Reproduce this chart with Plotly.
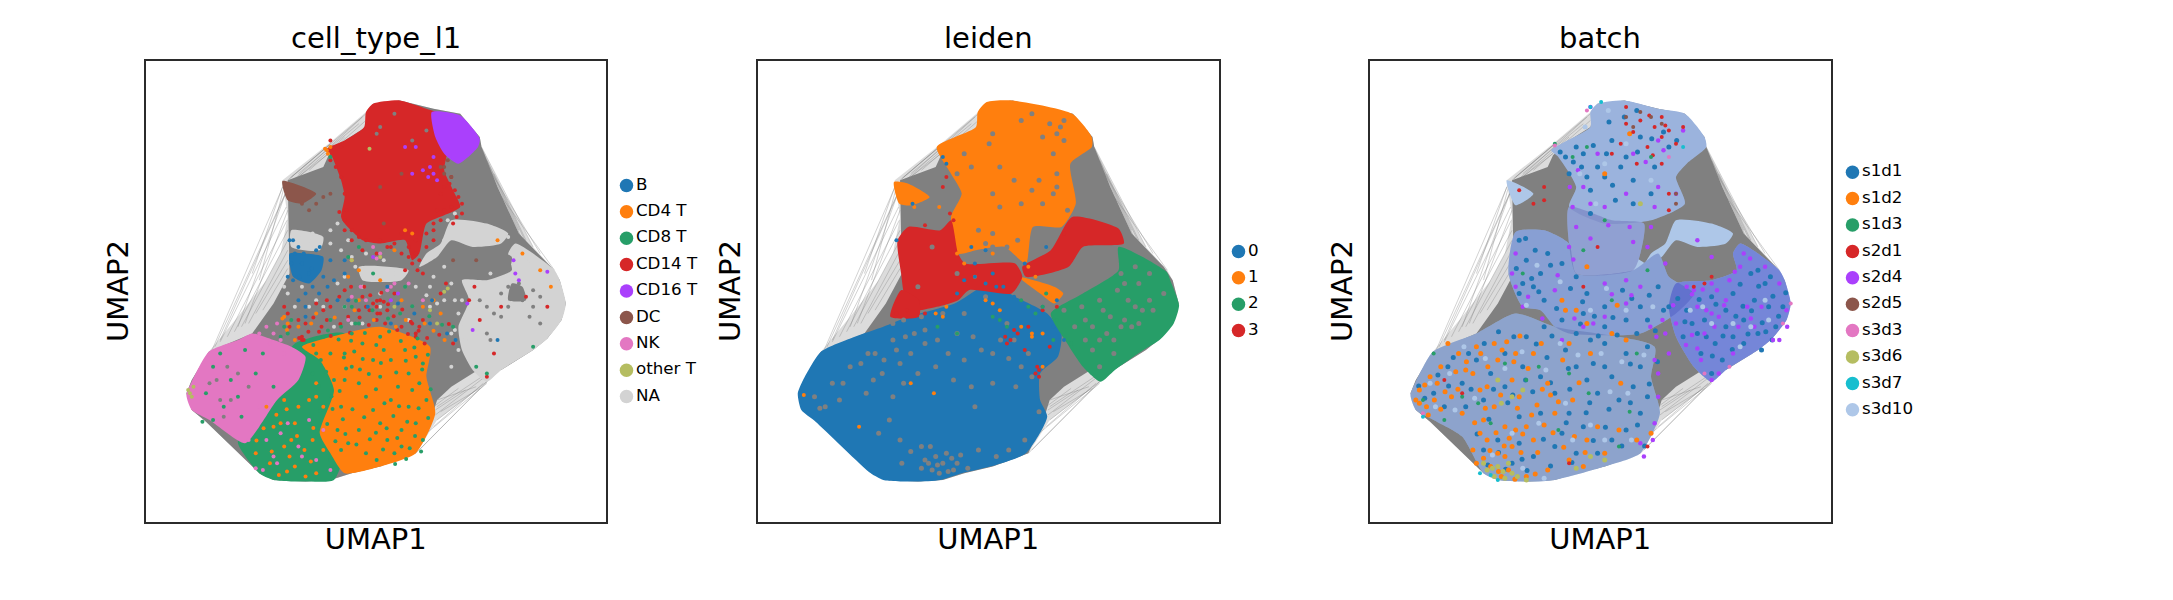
import plotly.graph_objects as go

# ---- embedding outline values (UMAP1, UMAP2 in arbitrary read units)
hull = [(155,440),(170,480),(218,565),(300,670),(380,780),(420,860),(440,970),(425,1080),(555,1190),(660,1285),(680,1310),(755,1320),(850,1295),(925,1280),(980,1210),(985,1180),(1060,1020),(1130,880),(1190,810),(1205,780),(1222,710),(1210,660),(1170,605),(1130,570),(1040,510),(1000,475),(960,440),(860,360),(800,260),(700,220),(620,200),(560,180),(490,175),(400,180),(360,200),(210,355),(170,390)]
core = [(155,440),(170,480),(218,565),(340,620),(400,710),(445,800),(440,1080),(540,1120),(555,1155),(600,1200),(660,1240),(680,1310),(755,1320),(850,1295),(925,1280),(980,1210),(985,1180),(1030,1060),(1090,920),(1180,820),(1205,780),(1222,710),(1210,660),(1170,605),(1130,570),(1040,510),(975,510),(900,460),(860,420),(845,370),(800,260),(700,220),(620,200),(560,180),(490,175),(400,180),(360,200),(210,355),(170,390)]
edges = [((430,1070),(225,565)),((433,1040),(235,580)),((436,1000),(250,595)),((438,960),(270,610)),((440,930),(290,625)),((440,900),(310,640)),((438,1050),(250,600)),((440,1060),(300,640)),((440,990),(320,650)),((440,870),(330,650)),((440,840),(350,680)),((440,815),(370,690)),((425,1060),(340,800)),((430,1060),(360,780)),
((440,1080),(660,1280)),((445,1085),(555,1185)),((450,1075),(650,1270)),((450,1090),(560,1190)),((470,1090),(600,1210)),((445,1070),(555,1160)),((470,1100),(640,1250)),((500,1110),(660,1260)),
((985,1180),(1130,880)),((985,1170),(1100,900)),((980,1160),(1150,860)),((960,1150),(1190,810)),((985,1175),(1120,870)),((970,1120),(1080,920)),((1000,1100),(1050,1000)),((1000,1140),(1090,930)),((1020,1100),(1110,900)),
((1000,475),(860,360)),((1005,480),(800,260)),((990,470),(850,340)),((1000,500),(860,400)),((995,490),(855,375)),((1000,470),(830,320)),((980,455),(870,385)),((970,460),(860,420)),((1000,475),(810,270)),((940,450),(855,390)),((920,455),(850,400))]

# ---- categories
ct_labels = ["B","CD4 T","CD8 T","CD14 T","CD16 T","DC","NK","other T","NA"]
ct_colors = ["#1f77b4","#ff7f0e","#279e68","#d62728","#aa40fc","#8c564b","#e377c2","#b5bd61","#d3d3d3"]
leiden_labels = ["0","1","2","3"]
leiden_colors = ["#1f77b4","#ff7f0e","#279e68","#d62728"]
batch_labels = ["s1d1","s1d2","s1d3","s2d1","s2d4","s2d5","s3d3","s3d6","s3d7","s3d10"]
batch_colors = ["#1f77b4","#ff7f0e","#279e68","#d62728","#aa40fc","#8c564b","#e377c2","#b5bd61","#17becf","#aec7e8"]
GRAY = "#808080"
titles = ["cell_type_l1","leiden","batch"]

# ---- panel 1: dense cluster outlines
ct_na_blob = [(1080,890),(1190,810),(1205,780),(1222,710),(1210,660),(1170,605),(1130,570),(1040,510),(1000,475),(960,510),(930,570),(920,640),(950,720),(930,780),(1000,780),(1070,810),(1060,860)]
ct_na_band = [(900,960),(1000,950),(1060,920),(1040,890),(960,880),(900,900),(860,850),(810,820),(830,860),(870,890)]
ct_na_mid = [(640,820),(780,810),(760,780),(650,780)]
ct_na_b = [(450,930),(540,910),(530,870),(450,880)]
ct_cd14 = [(680,1310),(755,1320),(830,1295),(890,1270),(890,1170),(880,1110),(905,1050),(925,1000),(880,975),(830,950),(810,860),(790,840),(770,900),(700,890),(650,900),(600,950),(590,970),(600,1030),(590,1080),(565,1150),(550,1175),(600,1200),(655,1240),(660,1285)]
ct_cd16 = [(845,1285),(925,1275),(980,1205),(975,1180),(920,1130),(880,1160),(855,1210)]
ct_dc = [(425,1078),(520,1040),(480,1010),(440,1020)]
ct_b = [(445,860),(490,860),(540,850),(535,810),(500,770),(455,790)]
ct_nk = [(218,565),(300,600),(340,620),(400,600),(450,580),(490,550),(470,480),(410,420),(360,340),(320,290),(220,360),(170,390),(155,435),(170,475)]
ct_cd8 = [(460,590),(600,620),(620,450),(600,260),(570,180),(490,175),(400,180),(360,200),(300,290),(320,370),(370,440),(420,520)]
ct_cd4 = [(480,580),(600,620),(700,640),(840,580),(830,490),(855,380),(800,260),(700,220),(600,200),(560,260),(530,320),(570,450),(530,540)]
ct_holes = [[(1000,870),(1070,850),(1060,810),(950,790),(940,810)],[(1070,770),(1100,760),(1110,720),(1060,720)]]

ct_red = [(600,960),(620,930),(640,910),(660,900),(700,900),(720,880),(740,890),(760,920),(780,880),(800,860),(810,840),(830,920),(850,950),(880,990),(900,1000),(915,970),(930,1010),(910,1050),(900,1090),(880,1060),(860,990),(850,900),(800,900),(790,830),(770,810),(700,720),(690,700),(670,690),(720,690),(650,730),(600,750),(560,700),(550,660),(520,710),(490,650),(480,600),(440,680),(430,700),(800,620),(790,650),(820,660),(760,640),(870,740),(885,770),(740,740),(690,660),(640,690),(610,670),(480,610),(1000,490),(1040,700),(1110,730),(1170,700),(1020,560),(980,660),(950,720),(965,760),(680,710),(700,680),(660,700),(710,715),(540,690),(550,720),(800,610),(810,640),(560,1200),(590,1180),
(445,640),(470,660),(498,625),(512,668),(535,640),(561,612),(588,648),(615,622),(642,668),(668,645),(692,680),(714,650),(738,672),(762,692),(786,655),(808,628),(832,606),(866,616),(893,648),(905,590),(778,618),(748,630),(691,718),(672,735),(703,742),(722,708),(655,760),(618,760),(585,730),(528,625),(485,600),(825,590),(472,606),
(560,1140),(575,1120),(590,1090),(600,1040),(605,990),(585,985),(870,1040),(895,1070),(920,1030),(905,950),(930,980),(870,960),(850,930),(830,880),(820,800),(805,810),(780,850),(760,860),(730,880),(690,860),(650,870),(620,900),(600,930)]
ct_orange = [(430,670),(440,650),(550,1170),(560,1180),(545,1175),(553,1160),(620,840),(640,810),(770,930),(790,920),(740,870),(610,790),(700,780),(850,720),(870,680),(820,700),(760,720),(520,680),(470,640),(1030,900),(1180,760),(1100,860),(1150,810),(640,720),(400,340),(430,280),(460,220),(490,190),(520,200),(510,300),(470,400),(430,420),(390,230),(350,260),(540,270),(500,420),(450,300),(415,195),(520,470),(460,350),(540,400),
(380,400),(408,376),(437,392),(466,312),(487,270),(512,336),(395,265),(372,335),(352,298),(425,665),(438,630),(460,600),(506,650),(572,668),(628,690),(682,660),(716,630),(744,640),(772,660),(825,650),(850,628),(881,600),(438,205),(505,235),(420,350),(445,250),(520,430)]
ct_green = [(600,560),(620,520),(640,470),(660,430),(680,390),(700,350),(720,300),(740,260),(760,330),(780,400),(800,350),(820,300),(830,420),(810,470),(780,500),(750,460),(730,420),(700,490),(680,540),(650,590),(620,620),(600,480),(590,400),(580,330),(610,290),(640,330),(660,260),(690,240),(760,280),(790,450),(730,540),(770,570),(800,550),(560,560),(540,610),(570,480),(590,270),(560,240),(700,610),(640,650),(590,640),(710,570),(820,530),(520,560),(510,500),(230,520),(280,480),(320,570),(350,500),(300,430),(260,400),(210,440),(370,560),(400,460),(250,560),(310,370),(200,355),(230,360),(430,640),(440,620),(420,610),(1000,500),(1130,580),(970,520),(620,700),(680,800),(770,760),(560,1150),
(512,585),(533,540),(548,505),(527,462),(563,431),(586,447),(604,515),(627,566),(651,543),(668,498),(688,452),(712,410),(737,372),(753,401),(776,355),(798,312),(815,265),(773,243),(742,228),(708,271),(671,302),(633,286),(602,318),(574,296),(551,348),(531,387),(566,393),(595,362),(622,392),(655,368),(688,322),(718,335),(748,306),(783,275),(808,395),(835,366),(842,452),(818,512),(796,578),(758,597),(725,626),(689,585),(657,621),(618,598),(583,602),(553,629),(598,548),(643,512),(702,531),(745,503),(772,538),(834,556),(805,605),
(600,700),(632,718),(678,690),(722,665),(756,680),(790,702),(838,672),(874,646),(905,640),(630,650),(560,660),(450,660),(610,850),(640,880)]
ct_purple = [(850,1100),(840,1120),(800,1180),(860,1080),(1080,800),(1090,780),(945,710),(750,740),(730,720),(680,850),(1075,840),(960,630),(1170,805),(770,1180),(820,1110),(835,1090),(790,1100),(850,1150)]
ct_brown = [(540,1030),(560,1040),(500,990),(480,1010),(520,1010),(900,1090),(880,1100),(870,1120),(700,1060),(710,950),(905,840),(970,840),(760,1100),(880,1120),(890,1140)]
ct_pink = [(400,620),(420,600),(380,640),(430,560),(410,650),(360,620),(390,590),(340,350),(330,300),(370,210),(400,250),(440,350),(480,250),(520,240),(540,330),(560,210),(350,215),(420,320),(380,300),(500,360),(360,400),(730,760),(680,880),(620,730),(700,860),(645,760),(690,845),(720,750),(740,770),(660,720),(610,660),(820,720),(780,770),(410,230),(470,280)]
ct_olive = [(165,440),(175,460),(160,450),(170,430),(890,755),(880,745),(700,850),(620,840),(740,700),(840,690),(860,650),(670,1175)]
ct_blue = [(445,900),(460,860),(480,830),(520,870),(560,840),(470,720),(490,700),(570,780),(600,840),(510,760),(540,790),(580,720),(490,670),(440,790),(500,800),(600,800),(720,760),(750,710),(840,650),(1030,600),(455,900),(470,880),(450,830),(530,880),(490,740),(485,860),(507,815),(473,790),(528,740),(552,760),(610,720),(665,700),(730,650),(796,680),(846,720),(888,620),(912,600),(455,780)]
ct_na_pts = [(650,760),(700,740),(890,960),(910,980),(880,900),(860,860),(600,700),(620,650),(570,640),(440,740),(460,700),(780,660),(840,700),(910,630),(940,600),(950,560),(920,570),(900,520),(580,950),(560,930),(610,900),(660,860),(840,760),(930,720),(960,690),(880,820),(480,760),(520,720),
(470,910),(500,900),(510,920),(560,890),(590,870),(620,850),(680,790),(710,840),(740,800),(600,790),(580,770),(630,820),(800,760),(830,735),(860,710),(880,720),(850,790),(900,770),(910,720),(920,680),(900,620),(935,650),(430,760),(500,700),(540,700),(650,650),(700,700),(1060,910),(1090,850),(1120,840),(1010,800)]
ct_gray = [(1090,770),(1070,740),(1100,720),(1060,760),(1000,620),(1010,600),(1130,750),(1120,670),(1020,680),(1040,670),(1000,700),(700,1240),(690,1220),(740,1280),(830,1230),(790,1200),(240,480),(270,520),(300,500),(250,420),(220,470),(330,460),(280,420),(260,370),(1090,740),(1060,700),(1150,730),(1130,700),(1040,740),(980,720),(1150,650)]

# ---- panel 2: dense cluster outlines
ld_blue = [(218,565),(313,610),(393,640),(463,670),(593,710),(693,770),(763,730),(853,680),(893,620),(883,550),(833,500),(833,420),(853,370),(793,260),(693,220),(613,200),(553,180),(483,175),(393,180),(358,200),(203,355),(163,390),(153,440),(168,480)]
ld_orange = [(683,1315),(753,1320),(923,1280),(978,1210),(978,1180),(918,1130),(933,1010),(893,940),(813,940),(793,830),(733,880),(653,870),(603,860),(583,970),(613,1040),(583,1100),(543,1180),(653,1240),(658,1285)]
ld_orange_dc = [(423,1075),(463,1070),(523,1030),(473,1005),(438,1010)]
ld_orange_low = [(773,790),(873,760),(898,740),(873,710),(833,740)]
ld_red_left = [(433,900),(463,940),(553,930),(583,960),(603,860),(623,830),(763,830),(783,790),(753,740),(633,750),(603,720),(543,700),(483,690),(453,730),(443,800)]
ld_red_right = [(783,820),(863,870),(923,970),(1053,935),(1068,890),(953,880),(913,820),(793,790)]
ld_red_low = [(413,670),(443,750),(493,720),(493,670)]
ld_green = [(1053,880),(1188,805),(1198,780),(1223,705),(1208,650),(1168,600),(1123,570),(1043,510),(1003,475),(953,520),(903,600),(863,680),(953,740),(1053,810)]

ld_gray = [(370,560),(420,600),(390,500),(440,530),(300,520),(250,470),(230,400),(270,420),(420,430),(440,300),(530,210),(560,230),(590,210),(540,250),(570,260),(600,230),(500,280),(480,620),(600,620),(620,540),(700,560),(760,600),(800,560),(780,520),(420,650),(450,660),(500,670),(560,680),(620,680),(680,730),(740,650),(650,400),(1050,750),(1080,720),(1100,700),(1010,690),(980,640),(960,600),(1120,690),(1000,520),(1040,560),(1090,640),(1140,720),(950,700),(920,770),(1060,800),(810,1280),(860,1250),(890,1240),(900,1260),(700,1220),(690,1190),(600,1100),(870,1040),(880,1060),(910,990),(830,1080),(720,1000),(680,890),(700,880),(740,880),(880,1220),(530,880),(600,800),(490,760),(350,560),(520,230),(550,200),(585,245),(510,240),(470,560),(510,590),(1000,600),(1060,640),
(200,430),(215,395),(280,470),(330,530),(345,440),(365,480),(395,540),(430,570),(455,610),(510,630),(545,600),(575,560),(645,610),(668,570),(722,600),(745,545),(810,490),(765,460),(700,470),(640,460),(590,480),(540,520),(490,500),(450,470),(410,360),(380,320),(445,230),(470,265),(500,215),(525,280),(545,225),(575,205),(610,255),(630,215),(660,270),(710,250),(745,270),(790,300),(830,385),
(1000,720),(1030,670),(1070,660),(1110,650),(1150,690),(1180,740),(1040,600),(980,570),(1020,620),(960,660),(930,640),(900,690),(1070,770),(1110,770),(1140,800),(1100,820),
(780,1260),(840,1210),(900,1200),(870,1160),(720,1120),(760,1080),(640,1120),(620,1160),(700,1040),(780,1010),(840,1010),(880,1100),(660,930),(700,920),(770,900),(810,1050)]
ld_orange_pts = [(680,720),(700,710),(720,690),(560,670),(470,470),(535,440),(325,340),(170,435),(840,520),(810,620),(620,830),(600,860),(570,700),(800,820),(820,790),(860,730),(840,620),(550,1000),(480,1000),(540,680),(700,860),(650,790),(780,640),(810,610)]
ld_red_pts = [(570,1090),(560,1060),(590,960),(580,980),(510,945),(750,600),(770,620),(760,630),(735,610),(740,590),(800,640),(820,500),(825,520),(830,490),(790,570),(860,580),(830,510),(430,680),(460,690),(510,680),(840,690),(880,700),(900,920)]
ld_blue_pts = [(650,830),(640,880),(700,800),(560,1150),(570,1130),(475,1010),(680,870),(850,880),(790,830),(620,780),(650,790),(680,770),(710,760),(600,740),(730,760),(760,730),(840,700),(880,720),(430,900),(870,640),(900,600)]
ld_green_pts = [(720,660),(740,640),(700,670),(840,700),(820,680),(780,720),(800,700),(920,590),(870,600),(600,620),(545,640),(850,740),(880,660)]

# ---- panel 3: lightest batch covers cells, the others speckle it
bt_top = [(680,1310),(755,1320),(850,1295),(925,1280),(980,1210),(985,1180),(930,1130),(900,1090),(925,1010),(830,960),(700,950),(600,1000),(620,1060),(570,1150),(550,1170),(660,1240),(660,1285)]
bt_mid = [(450,925),(530,930),(600,890),(620,800),(780,810),(850,860),(880,790),(950,740),(900,680),(800,620),(600,620),(560,640),(520,690),(470,700),(430,800)]
bt_low = [(218,565),(340,620),(450,680),(560,640),(840,580),(830,490),(855,380),(800,260),(700,220),(560,180),(490,175),(400,180),(360,200),(300,310),(220,360),(170,390),(155,435),(170,475)]
bt_right = [(1080,890),(1190,810),(1205,780),(1222,710),(1210,660),(1170,605),(1130,570),(1040,510),(1000,475),(950,520),(900,610),(880,700),(900,770),(1000,780),(1070,810),(1060,860)]
bt_band = ct_na_band
bt_dc = [(425,1080),(500,1040),(450,1005)]
bt_mid2 = [(650,835),(790,845),(850,790),(700,780)]
bt_bridge = [(600,1000),(720,960),(810,950),(800,860),(780,810),(620,800),(600,890)]
# average tint of the speckled mixture per region
bt_shades = [(bt_low, "rgba(95,115,165,0.42)"), (bt_mid, "rgba(80,100,180,0.40)"), (bt_right, "rgba(60,70,200,0.50)"),
             (bt_top, "rgba(90,110,180,0.22)"), (bt_bridge, "rgba(90,90,170,0.35)")]

bt_blue = [(620,1180),(680,1120),(720,1200),(760,1150),(800,1210),(840,1120),(880,1180),(600,1100),(660,1050),(700,1090),(640,1160),(590,1150),(780,1080),(830,1040),(730,1020),(660,980),(460,900),(480,840),(520,800),(500,760),(470,770),(540,860),(460,740),(530,720),(580,830),(620,790),(650,740),(700,700),(750,750),(800,700),(850,760),(880,700),(820,660),(760,660),(700,640),(640,680),(580,660),(530,640),(480,610),(620,620),(700,590),(760,560),(800,520),(780,460),(820,430),(800,380),(760,330),(720,300),(680,260),(640,340),(600,380),(560,440),(520,490),(470,520),(420,560),(380,500),(340,540),(300,470),(260,520),(220,440),(250,400),(310,400),(360,420),(420,460),(460,370),(520,380),(580,320),(620,260),(560,280),(500,250),(440,230),(400,300),(360,270),(460,290),(650,480),(700,520),(740,420),(680,440),(620,520),(590,570),(660,600),(720,490),(820,580),(790,620),(930,690),(980,660),(1040,690),(1090,660),(1130,620),(1180,640),(1160,700),(1120,720),(1060,610),(1010,590),(970,560),(1030,540),(1090,590),(1200,700),(1150,770),(1000,730),(960,620),(1060,740),(1110,800),(920,610),(1040,640),(1170,600),(1140,570),(1000,500),
(478,905),(505,870),(452,815),(495,785),(548,825),(515,745),(565,695),(604,755),(638,715),(671,672),(723,668),(776,725),(825,735),(865,690),(905,725),(842,628),(735,615),(682,612),(632,648),(552,612),(508,588),(445,610),(402,625),(362,590),(318,560),(275,548),(232,495),(195,425),(178,462),(262,462),(325,452),(388,452),(442,435),(498,445),(548,472),(602,452),(658,412),(712,392),(772,412),(825,468),(848,535),(772,528),(668,530),(598,515),(538,548),(478,480),(428,412),(375,362),(342,318),(402,262),(468,242),(528,302),(592,352),(648,382),(702,338),(748,282),(792,345),(812,282),(668,298),(608,232),(548,222),(482,208),(422,212),(372,225),
(965,722),(1012,708),(1068,672),(1112,688),(1142,652),(1188,672),(1208,742),(1172,732),(1132,762),(1088,702),(1032,612),(1002,552),(985,610),(1058,572),(1102,618),(1152,625),(945,650),(925,655),(1080,768),(1130,810),(1165,790),
(635,1120),(668,1185),(705,1160),(745,1120),(792,1165),(832,1205),(865,1225),(902,1200),(780,1010),(722,1065),(650,1090),(612,1135),(575,1165),(712,1255),(755,1270),(790,1290)]
bt_light = [(210,470),(265,500),(305,580),(365,545),(420,515),(468,565),(535,510),(575,590),(625,555),(690,560),(748,535),(810,555),(765,440),(715,445),(660,345),(590,410),(515,350),(440,320),(385,255),(335,425),(280,390),(225,400),(610,300),(700,300),(775,300),(470,215),(530,185),(660,690),(705,755),(575,775),(510,825),(480,705),(835,700),(760,690),(1000,650),(1060,650),(1110,640),(1160,660),(1080,580),(975,700),(940,690),(1150,720),(630,1100),(700,1130),(760,1190),(830,1080),(675,1010),(645,1240),(710,1290)]
bt_orange = [(180,450),(230,470),(290,560),(340,580),(390,590),(330,500),(270,430),(200,400),(240,520),(300,380),(350,320),(400,260),(430,210),(480,190),(380,220),(420,340),(460,430),(390,400),(500,300),(440,480),(360,360),(330,270),(420,250),(450,330),(410,190),(540,210),(600,240),(650,300),(680,340),(610,420),(540,470),(500,560),(450,560),(370,460),(310,510),(260,590),(210,490),(170,420),(560,380),(480,340),(370,300),(340,230),(700,260),(740,330),(790,300),(640,220),(620,690),(580,720),(650,820),(720,620),(760,600),(700,1100),(770,1220),(400,540),(350,450),(440,280),
(195,465),(222,420),(252,445),(282,505),(312,535),(352,560),(412,570),(445,535),(485,515),(525,452),(570,415),(530,345),(495,375),(455,395),(408,435),(365,395),(335,352),(395,322),(432,305),(465,262),(512,262),(555,322),(585,278),(615,310),(645,262),(402,205),(448,182),(505,198),(360,245),(378,268),(418,282),(470,318),(510,405),(548,435),(628,472),(582,540),(522,590),(462,612),(425,595),(372,520),(288,452),(240,392),(205,375),(180,410),(600,590),(660,560),(745,470),(830,320),(590,690),(650,650),(735,705)]
bt_purple = [(930,760),(960,700),(1000,680),(1050,780),(980,620),(1020,500),(1060,560),(1120,640),(1190,770),(1210,690),(1190,600),(1150,820),(1090,860),(1100,700),(1000,770),(950,750),(970,540),(1000,480),(1040,720),(900,650),(870,620),(880,560),(840,540),(850,430),(840,350),(800,290),(700,770),(760,780),(600,880),(620,940),(660,1010),(700,1000),(820,880),(870,830),(610,1000),(640,1060),(850,1060),(840,1000),(760,1040),(770,940),(450,860),(440,800),(470,700),(560,750),(640,640),(700,670),(760,710),(800,760),(580,600),(1000,850),(960,900),(900,1040),(850,1200),(780,1160),(660,1300),(1080,820),(1020,670),(1140,700),
(945,738),(975,752),(1015,750),(1035,705),(985,690),(945,615),(928,585),(960,575),(1008,640),(1075,640),(1110,665),(1065,805),(1108,845),(1172,600),(1212,640),(892,705),(862,660),(845,610),(828,640),(850,500),(835,300),(810,250),(775,735),(720,738),(668,650),(615,665),(568,795),(612,842),(660,905),(710,945),(780,895),(830,940),(602,1060),(625,1110),(680,1160),(815,1135),(865,1170),(920,1230),(485,730),(450,760),(525,665)]
bt_red = [(840,1240),(860,1270),(800,1260),(880,1230),(760,1250),(900,1190),(820,1180),(790,1130),(720,1160),(860,1130),(880,1040),(880,990),(460,1050),(500,1010),(530,1020),(950,760),(980,770),(1000,790),(640,760),(680,880),(300,440),(250,480),(600,230),(820,280),(760,1300),(920,1240),(860,1210),(530,1060),(825,1275),(870,1245),(780,1225),(745,1190),(835,1155)]
bt_green = [(220,560),(560,1190),(190,420),(300,430),(420,530),(600,500),(740,280),(790,560),(640,870),(700,960),(820,810),(250,360),(480,480),(570,330),(650,1180),(830,1150),(470,800),(720,720),(345,410),(515,520),(655,440),(770,385),(380,350),(610,1150)]
bt_olive = [(370,210),(390,190),(420,185),(440,200),(360,230),(480,180),(400,220),(430,230),(700,240),(660,250),(620,215),(400,480),(440,430),(410,410),(800,1010),(385,215),(455,190),(415,205),(470,450)]
bt_brown = [(830,1270),(800,1285),(780,1240),(860,1250),(760,1270),(900,1040),(900,1010)]
bt_pink = [(1222,710),(1200,650),(980,500),(650,1290),(880,1150),(190,380),(560,1185),(1050,520)]
bt_cyan = [(690,1315),(660,1300),(400,180),(380,195),(920,1180),(350,200),(190,370)]


def xs(points):
    return [p[0] for p in points]


def ys(points):
    return [p[1] for p in points]


W, H = 2173, 600
panels = [(145.5, 606), (757.5, 1219), (1369.5, 1831)]
TOP, BOTTOM = 60.5, 521.5
legend_x = [616.5, 1228.5, 1842.5]
PITCH = 26.4

fig = go.Figure()


def poly(i, points, color, smooth=True):
    fig.add_trace(go.Scatter(x=xs(points) + xs(points)[:1], y=ys(points) + ys(points)[:1], mode="lines", fill="toself", fillcolor=color,
                             line=dict(width=0, color=color, shape="spline" if smooth else "linear", smoothing=0.6),
                             hoverinfo="skip", showlegend=False, xaxis=f"x{i}", yaxis=f"y{i}"))


def dots(i, points, color, size):
    fig.add_trace(go.Scatter(x=xs(points), y=ys(points), mode="markers", marker=dict(size=size, color=color, line=dict(width=0)),
                             hoverinfo="skip", showlegend=False, xaxis=f"x{i}", yaxis=f"y{i}"))


edge_x, edge_y = [], []
for a, b in edges:
    edge_x += [a[0], b[0], None]
    edge_y += [a[1], b[1], None]

for i in (1, 2, 3):
    poly(i, hull, "rgba(128,128,128,0.28)", smooth=False)
    fig.add_trace(go.Scatter(x=edge_x, y=edge_y, mode="lines", line=dict(width=0.6, color="rgba(128,128,128,0.6)"),
                             hoverinfo="skip", showlegend=False, xaxis=f"x{i}", yaxis=f"y{i}"))
    poly(i, core, GRAY, smooth=False)

# panel 1
for p in (ct_na_blob, ct_na_band, ct_na_mid, ct_na_b):
    poly(1, p, ct_colors[8])
for p in ct_holes:
    poly(1, p, GRAY)
poly(1, ct_cd14, ct_colors[3])
poly(1, ct_cd16, ct_colors[4])
poly(1, ct_dc, ct_colors[5])
poly(1, ct_b, ct_colors[0])
poly(1, ct_cd8, ct_colors[2])
poly(1, ct_nk, ct_colors[6])
poly(1, ct_cd4, ct_colors[1])
dots(1, ct_gray, GRAY, 4)
dots(1, ct_na_pts, ct_colors[8], 4)
dots(1, ct_red, ct_colors[3], 4)
dots(1, ct_orange, ct_colors[1], 4)
dots(1, ct_green, ct_colors[2], 4)
dots(1, ct_purple, ct_colors[4], 4)
dots(1, ct_brown, ct_colors[5], 4)
dots(1, ct_pink, ct_colors[6], 4)
dots(1, ct_olive, ct_colors[7], 4)
dots(1, ct_blue, ct_colors[0], 4)

# panel 2
poly(2, ld_blue, leiden_colors[0])
for p in (ld_orange, ld_orange_dc, ld_orange_low):
    poly(2, p, leiden_colors[1])
for p in (ld_red_left, ld_red_right, ld_red_low):
    poly(2, p, leiden_colors[3])
poly(2, ld_green, leiden_colors[2])
dots(2, ld_gray, GRAY, 5)
dots(2, ld_orange_pts, leiden_colors[1], 4)
dots(2, ld_red_pts, leiden_colors[3], 4)
dots(2, ld_blue_pts, leiden_colors[0], 4)
dots(2, ld_green_pts, leiden_colors[2], 4)

# panel 3
for p in (bt_top, bt_mid, bt_low, bt_right, bt_band, bt_dc, bt_mid2, bt_bridge):
    poly(3, p, batch_colors[9])
for p, shade in bt_shades:
    poly(3, p, shade)
dots(3, bt_blue, batch_colors[0], 5)
dots(3, bt_orange, batch_colors[1], 5)
dots(3, bt_purple, batch_colors[4], 4.5)
dots(3, bt_red, batch_colors[3], 4)
dots(3, bt_green, batch_colors[2], 4)
dots(3, bt_olive, batch_colors[7], 5)
dots(3, bt_brown, batch_colors[5], 4)
dots(3, bt_pink, batch_colors[6], 4)
dots(3, bt_cyan, batch_colors[8], 4)
dots(3, bt_light, batch_colors[9], 5)

# legends: one marker + real text per category on their own small axes
for k, (labels, colors) in enumerate(((ct_labels, ct_colors), (leiden_labels, leiden_colors), (batch_labels, batch_colors))):
    fig.add_trace(go.Scatter(x=[0] * len(labels), y=labels, mode="markers+text", text=labels, textposition="middle right",
                             textfont=dict(family="DejaVu Sans", size=16.7, color="black"), cliponaxis=False,
                             marker=dict(size=13.5, color=colors, line=dict(width=0)), hoverinfo="skip", showlegend=False,
                             xaxis=f"x{k+4}", yaxis=f"y{k+4}"))

layout = dict(width=W, height=H, margin=dict(l=0, r=0, t=0, b=0), autosize=False, showlegend=False,
              paper_bgcolor="white", plot_bgcolor="white", font=dict(family="DejaVu Sans", color="black"))
annotations = []
box = dict(showgrid=False, zeroline=False, showticklabels=False, ticks="", showline=True, mirror=True,
           linecolor="#2b2b2b", linewidth=2)
for k, (x0, x1) in enumerate(panels):
    sfx = str(k + 1)
    layout["xaxis" + sfx] = dict(domain=[x0 / W, x1 / W], range=[40, 1335], anchor="y" + sfx,
                                 title=dict(text="UMAP1", font=dict(size=29), standoff=6), **box)
    layout["yaxis" + sfx] = dict(domain=[1 - BOTTOM / H, 1 - TOP / H], range=[55, 1440], anchor="x" + sfx,
                                 title=dict(text="UMAP2", font=dict(size=29), standoff=6), **box)
    annotations.append(dict(text=titles[k], xref="paper", yref="paper", x=(x0 + x1) / 2 / W, y=1 - 37.5 / H,
                            xanchor="center", yanchor="middle", showarrow=False, font=dict(size=29)))
    labels = (ct_labels, leiden_labels, batch_labels)[k]
    n = len(labels)
    mid = (TOP + BOTTOM) / 2
    lx = str(k + 4)
    layout["xaxis" + lx] = dict(domain=[legend_x[k] / W, (legend_x[k] + 120) / W], range=[-10, 110], visible=False, anchor="y" + lx)
    layout["yaxis" + lx] = dict(domain=[1 - (mid + n * PITCH / 2) / H, 1 - (mid - n * PITCH / 2) / H], type="category",
                                categoryorder="array", categoryarray=labels, range=[n - 0.5, -0.5], visible=False, anchor="x" + lx)
layout["annotations"] = annotations
fig.update_layout(**layout)
fig.write_html("out.html", config={"displayModeBar": False}, post_script="document.body.style.margin='0';")
